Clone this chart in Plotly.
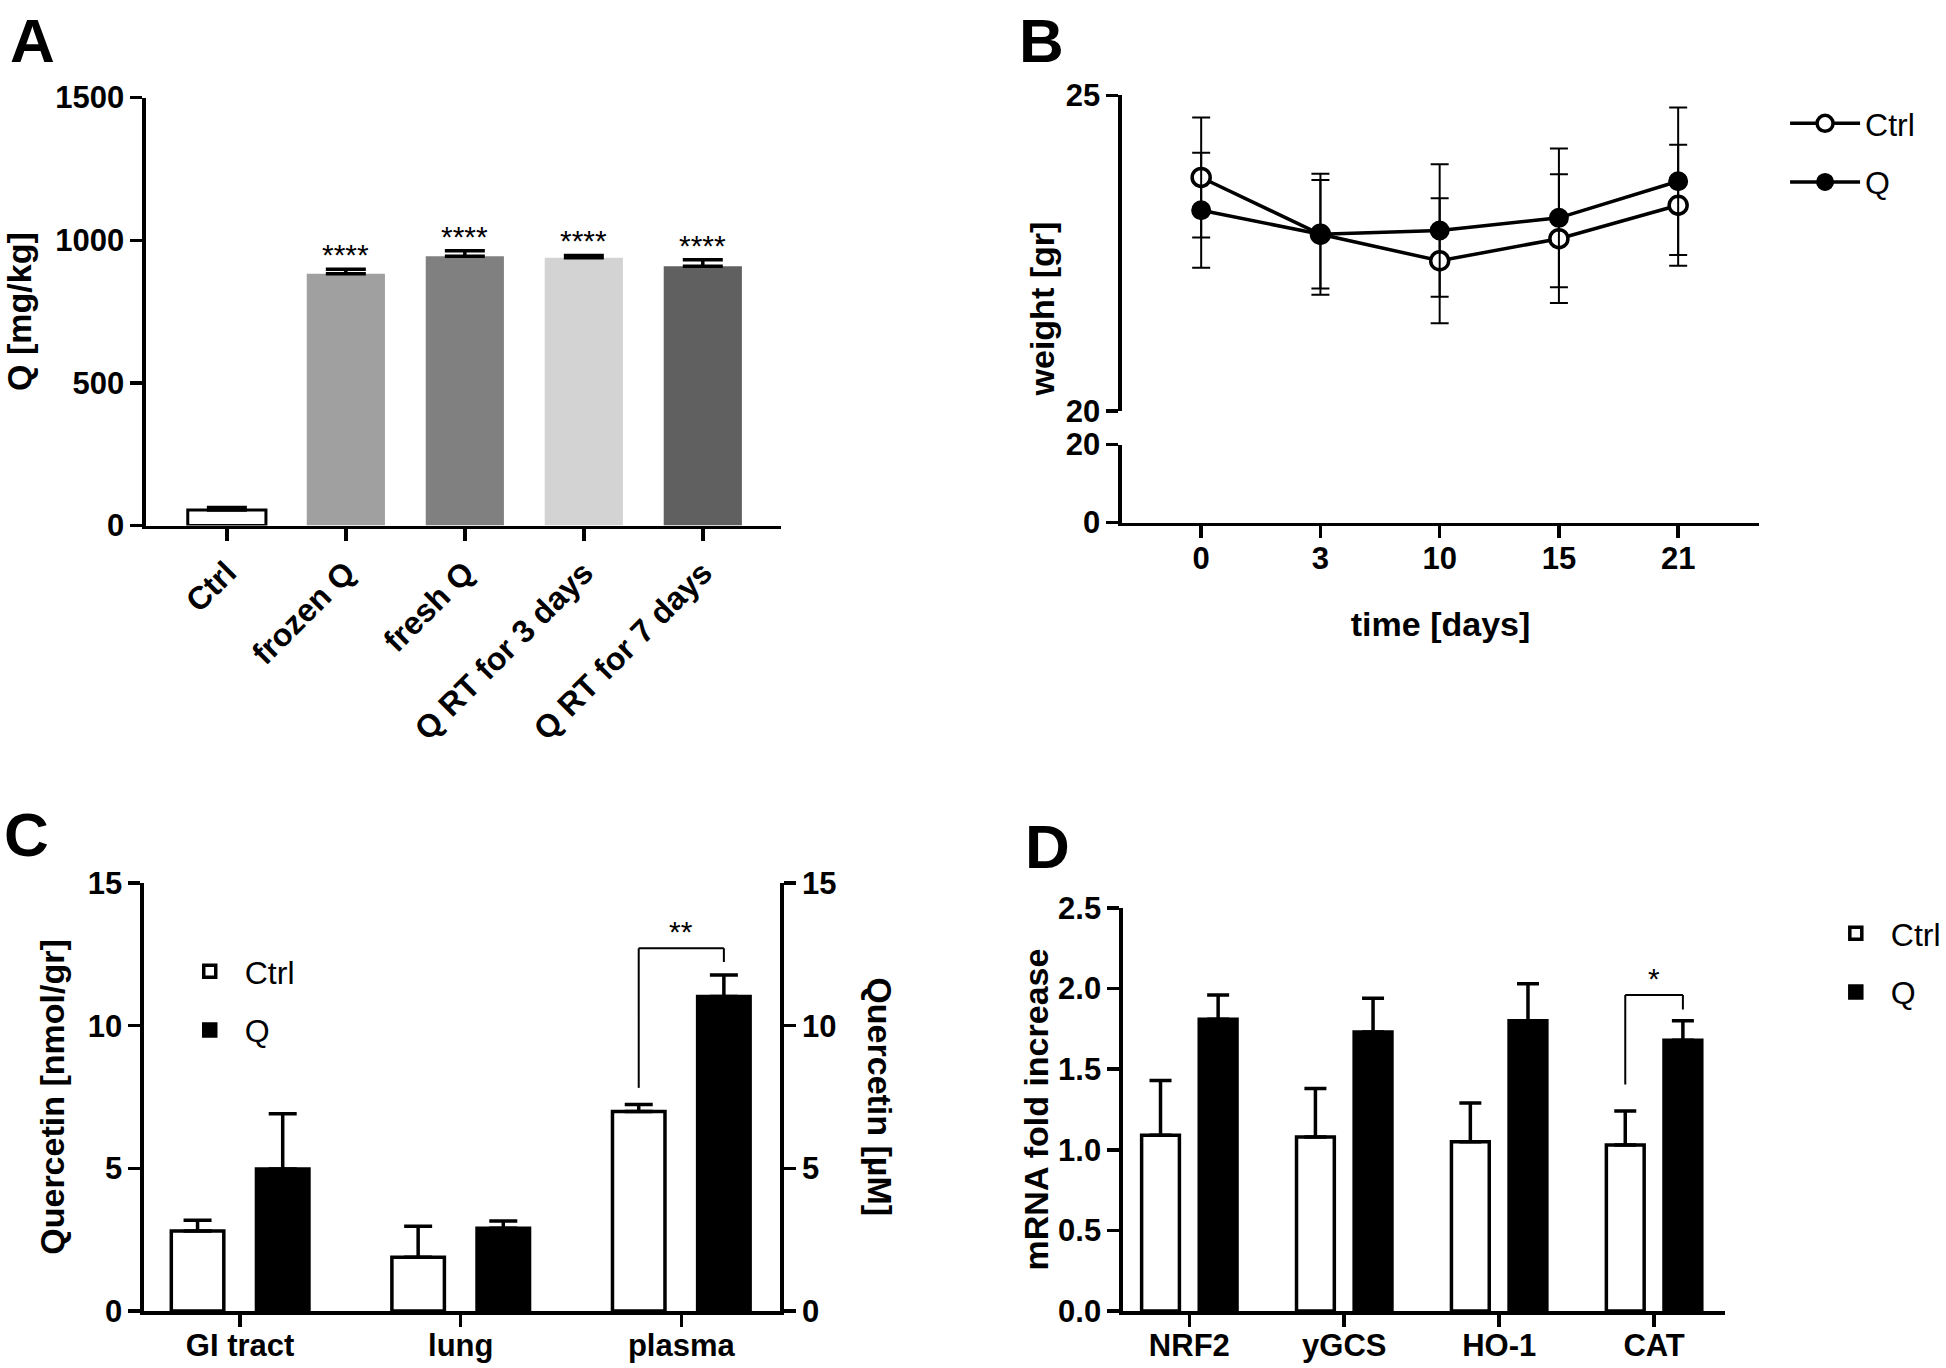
import plotly.graph_objects as go

W, H = 1946, 1368


def fx(px):
    return px / W


def fy(py):
    return 1 - py / H


# ---------------- data ----------------
# Panel A
a_cats = ["Ctrl", "frozen Q", "fresh Q", "Q RT for 3 days", "Q RT for 7 days"]
a_vals = [55, 883, 944, 939, 909]
a_err = [8, 15, 19, 8, 23]
a_sig = ["", "****", "****", "****", "****"]

# Panel B
b_days = ["0", "3", "10", "15", "21"]
b_ctrl = [23.70, 22.80, 22.38, 22.73, 23.26]
b_ctrl_err = [0.95, 0.96, 0.99, 1.02, 0.96]
b_q = [23.18, 22.80, 22.86, 23.06, 23.64]
b_q_err = [0.91, 0.86, 1.05, 1.10, 1.17]

# Panel C
c_cats = ["GI tract", "lung", "plasma"]
c_ctrl = [2.80, 1.88, 6.99]
c_ctrl_err = [0.38, 1.09, 0.25]
c_q = [4.98, 2.90, 11.02]
c_q_err = [1.93, 0.25, 0.76]

# Panel D
d_cats = ["NRF2", "yGCS", "HO-1", "CAT"]
d_ctrl = [1.09, 1.08, 1.05, 1.03]
d_ctrl_err = [0.34, 0.30, 0.24, 0.21]
d_q = [1.81, 1.73, 1.80, 1.68]
d_q_err = [0.15, 0.21, 0.23, 0.12]

# ---------------- styles ----------------
a_colors = ["#FFFFFF", "#A0A0A0", "#808080", "#D3D3D3", "#606060"]
FONT = "Liberation Sans, Arial, Helvetica, sans-serif"
TICKF = dict(family=FONT, size=31, color="black", weight="bold")
TITLEF = dict(family=FONT, size=34, color="black", weight="bold")
LEGF = dict(family=FONT, size=32, color="black")
AXW = 3.5

fig = go.Figure()

# ---- Panel A ----
fig.add_trace(go.Bar(
    x=a_cats, y=a_vals, width=0.657,
    marker=dict(color=a_colors,
                line=dict(color="black", width=[3, 0, 0, 0, 0])),
    error_y=dict(type="data", array=a_err, arrayminus=[0] * len(a_err),
                 color="black", thickness=3.5, width=20),
    xaxis="x", yaxis="y", showlegend=False, hoverinfo="skip"))

# ---- Panel B ----
fig.add_trace(go.Scatter(
    x=b_days, y=b_ctrl, mode="lines+markers", name="Ctrl",
    line=dict(color="black", width=3.5),
    marker=dict(symbol="circle", size=18, color="white",
                line=dict(color="black", width=3.5)),
    error_y=dict(type="data", array=b_ctrl_err, color="black",
                 thickness=2, width=9),
    xaxis="x2", yaxis="y2", legend="legend", legendgroup="bc"))
fig.add_trace(go.Scatter(
    x=b_days, y=b_q, mode="lines+markers", name="Q",
    line=dict(color="black", width=3.5),
    marker=dict(symbol="circle", size=18, color="black",
                line=dict(color="black", width=2)),
    error_y=dict(type="data", array=b_q_err, color="black",
                 thickness=2, width=9),
    xaxis="x2", yaxis="y2", legend="legend", legendgroup="bq"))
# invisible trace to register the lower (broken) y segment
fig.add_trace(go.Scatter(
    x=b_days, y=[None] * len(b_days), mode="markers",
    xaxis="x2", yaxis="y3", showlegend=False, hoverinfo="skip"))

# ---- Panel C ----
c_w, c_off = 0.238, 0.193
fig.add_trace(go.Bar(
    x=c_cats, y=c_ctrl, name="Ctrl", width=c_w, offset=-c_off - c_w / 2,
    marker=dict(color="white", line=dict(color="black", width=3.5)),
    error_y=dict(type="data", array=c_ctrl_err, arrayminus=[0] * 3,
                 color="black", thickness=3.5, width=14),
    xaxis="x3", yaxis="y4", legend="legend2", legendgroup="cc"))
fig.add_trace(go.Bar(
    x=c_cats, y=c_q, name="Q", width=c_w, offset=c_off - c_w / 2,
    marker=dict(color="black", line=dict(color="black", width=3.5)),
    error_y=dict(type="data", array=c_q_err, arrayminus=[0] * 3,
                 color="black", thickness=3.5, width=14),
    xaxis="x3", yaxis="y4", legend="legend2", legendgroup="cq"))
fig.add_trace(go.Scatter(
    x=c_cats, y=c_q, mode="markers", marker=dict(opacity=0),
    xaxis="x3", yaxis="y5", showlegend=False, hoverinfo="skip"))

# ---- Panel D ----
d_w, d_off = 0.244, 0.186
fig.add_trace(go.Bar(
    x=d_cats, y=d_ctrl, name="Ctrl", width=d_w, offset=-d_off - d_w / 2,
    marker=dict(color="white", line=dict(color="black", width=3.5)),
    error_y=dict(type="data", array=d_ctrl_err, arrayminus=[0] * 4,
                 color="black", thickness=3.5, width=11),
    xaxis="x4", yaxis="y6", legend="legend3", legendgroup="dc"))
fig.add_trace(go.Bar(
    x=d_cats, y=d_q, name="Q", width=d_w, offset=d_off - d_w / 2,
    marker=dict(color="black", line=dict(color="black", width=3.5)),
    error_y=dict(type="data", array=d_q_err, arrayminus=[0] * 4,
                 color="black", thickness=3.5, width=11),
    xaxis="x4", yaxis="y6", legend="legend3", legendgroup="dq"))


def axis(**kw):
    base = dict(showline=True, linecolor="black", linewidth=AXW,
                ticks="outside", ticklen=12, tickwidth=AXW, tickcolor="black",
                showgrid=False, zeroline=False, tickfont=TICKF,
                automargin=False, fixedrange=True)
    base.update(kw)
    return base


layout = dict(
    width=W, height=H, margin=dict(l=0, r=0, t=0, b=0),
    paper_bgcolor="white", plot_bgcolor="white", barmode="group",
    # A
    xaxis=axis(domain=[fx(147), fx(787)], anchor="y", range=[-0.68, 4.66],
               tickangle=-45, tickfont=dict(TICKF, size=32)),
    yaxis=axis(domain=[fy(525.6), fy(97.6)], anchor="x", range=[0, 1500],
               tickvals=[0, 500, 1000, 1500],
               title=dict(text="Q [mg/kg]", font=TITLEF, standoff=14)),
    # B
    xaxis2=axis(domain=[fx(1130), fx(1772)], anchor="y3", range=[-0.665, 4.68],
                ticklabelstandoff=-6,
                title=dict(text="time [days]", font=TITLEF, standoff=38)),
    yaxis2=axis(domain=[fy(411), fy(95.4)], anchor="x2", range=[20, 25],
                tickvals=[20, 25]),
    yaxis3=axis(domain=[fy(522.5), fy(444.5)], anchor="x2", range=[0, 20],
                tickvals=[0, 20]),
    # C
    xaxis3=axis(domain=[fx(145), fx(786)], anchor="y4", range=[-0.436, 2.449],
                ticklabelstandoff=-8),
    yaxis4=axis(domain=[fy(1311), fy(883)], anchor="x3", range=[0, 15],
                tickvals=[0, 5, 10, 15],
                title=dict(text="Quercetin [nmol/gr]", font=TITLEF, standoff=14)),
    yaxis5=axis(domain=[fy(1311), fy(883)], anchor="x3", overlaying="y4",
                side="right", range=[0, 15], tickvals=[0, 5, 10, 15]),
    # D
    xaxis4=axis(domain=[fx(1131), fx(1738)], anchor="y6", range=[-0.429, 3.461],
                ticklabelstandoff=-8),
    yaxis6=axis(domain=[fy(1311), fy(908)], anchor="x4", range=[0, 2.5],
                tickvals=[0, 0.5, 1.0, 1.5, 2.0, 2.5], tickformat=".1f",
                title=dict(text="mRNA fold increase", font=TITLEF, standoff=0)),
    legend=dict(x=fx(1798), y=fy(96), xanchor="left", yanchor="top",
                font=LEGF, bgcolor="rgba(0,0,0,0)", tracegroupgap=14,
                itemwidth=70),
    legend2=dict(x=fx(176), y=fy(944), xanchor="left", yanchor="top",
                 font=LEGF, bgcolor="rgba(0,0,0,0)", tracegroupgap=14,
                 itemwidth=60),
    legend3=dict(x=fx(1834), y=fy(906), xanchor="left", yanchor="top",
                 font=LEGF, bgcolor="rgba(0,0,0,0)", tracegroupgap=14,
                 itemwidth=60),
)
fig.update_layout(**layout)

annotations = []
# panel letters
for letter, px, py in [("A", 8, 4), ("B", 1024, 4), ("C", 2, 798), ("D", 1030, 810)]:
    annotations.append(dict(text=letter, x=fx(px), y=fy(py), xref="paper", yref="paper",
                            xanchor="left", yanchor="top", showarrow=False,
                            font=dict(family=FONT, size=62, color="black", weight="bold")))
# significance stars A
for cat, v, e, s in zip(a_cats, a_vals, a_err, a_sig):
    if s:
        annotations.append(dict(text=s, x=cat, y=v + e, xref="x", yref="y",
                                yanchor="bottom", showarrow=False, yshift=-4,
                                font=dict(family=FONT, size=30, color="black")))
# B y-axis title (spans the broken axis)
annotations.append(dict(text="weight [gr]", x=fx(1050), y=fy(309), xref="paper",
                        yref="paper", xanchor="center", yanchor="middle",
                        textangle=-90, showarrow=False, font=TITLEF))
# C right axis title
annotations.append(dict(text="Quercetin [µM]", x=fx(886), y=fy(1097), xref="paper",
                        yref="paper", xanchor="center", yanchor="middle",
                        textangle=90, showarrow=False, font=TITLEF))

shapes = []
# C bracket (plasma)
ci = 2
c_x0, c_x1 = ci - c_off, ci + c_off
c_top = c_q[ci] + c_q_err[ci] + 0.93
c_l = c_ctrl[ci] + c_ctrl_err[ci] + 0.58
c_r = c_q[ci] + c_q_err[ci] + 0.45
for x0, y0, x1, y1 in [(c_x0, c_l, c_x0, c_top), (c_x0, c_top, c_x1, c_top),
                       (c_x1, c_top, c_x1, c_r)]:
    shapes.append(dict(type="line", xref="x3", yref="y4", x0=x0, y0=y0, x1=x1, y1=y1,
                       line=dict(color="black", width=2)))
annotations.append(dict(text="**", x=ci, y=c_top, xref="x3", yref="y4",
                        yanchor="bottom", showarrow=False, yshift=-2,
                        font=dict(family=FONT, size=30, color="black")))
# D bracket (CAT)
di = 3
d_x0, d_x1 = di - d_off, di + d_off
d_top = d_q[di] + d_q_err[di] + 0.16
d_l = d_ctrl[di] + d_ctrl_err[di] + 0.165
d_r = d_q[di] + d_q_err[di] + 0.07
for x0, y0, x1, y1 in [(d_x0, d_l, d_x0, d_top), (d_x0, d_top, d_x1, d_top),
                       (d_x1, d_top, d_x1, d_r)]:
    shapes.append(dict(type="line", xref="x4", yref="y6", x0=x0, y0=y0, x1=x1, y1=y1,
                       line=dict(color="black", width=2)))
annotations.append(dict(text="*", x=di, y=d_top, xref="x4", yref="y6",
                        yanchor="bottom", showarrow=False, yshift=-2,
                        font=dict(family=FONT, size=30, color="black")))

fig.update_layout(annotations=annotations, shapes=shapes)

# remove the browser's default page margin so the figure fills the window exactly
page_js = ("document.body.style.margin='0px';"
           "document.documentElement.style.overflow='hidden';"
           "document.body.style.overflow='hidden';")
fig.write_html("out.html", post_script=page_js,
               config={"displayModeBar": False, "staticPlot": True})
